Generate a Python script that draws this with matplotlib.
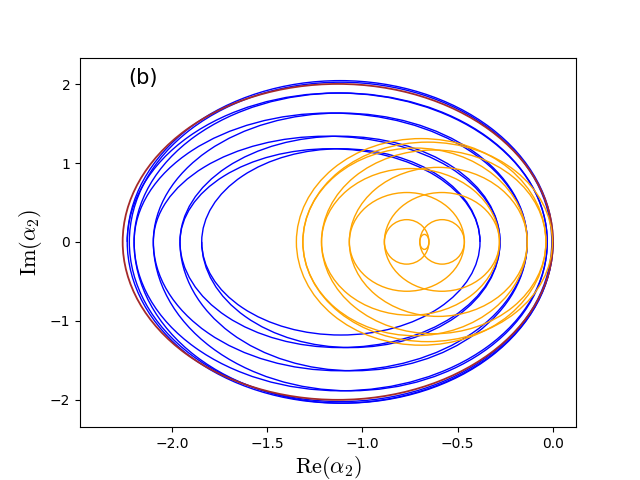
import matplotlib
matplotlib.use("Agg")
import matplotlib.pyplot as plt
from matplotlib.patches import Ellipse, Arc

plt.rcParams['mathtext.fontset'] = 'cm'

# blue orbit levels (left edge, right edge, half height)
blue_left = [-1.844, -1.958, -2.098, -2.199, -2.235]
blue_right = [-0.383, -0.278, -0.135, -0.030, 0.0]
blue_half = [1.181, 1.340, 1.634, 1.888, 2.045]

# extra full blue loop near the outside
blue_extra = [(-2.224, -0.006, 2.025)]

# reference orbit (red)
red_left, red_right, red_half = -2.259, 0.0, 2.003

# orange orbit: ellipses given as (left, right, half height)
orange_left = [-0.699, -0.885, -1.069, -1.215, -1.313, -1.347]
orange_right = [-0.651, -0.465, -0.281, -0.135, -0.037, -0.003]
orange_loops = [(0, 0, 0.095), (1, 0, 0.282), (0, 1, 0.282),
                (2, 1, 0.626), (1, 2, 0.626), (3, 2, 0.930),
                (2, 3, 0.945), (4, 3, 1.190), (3, 4, 1.165),
                (5, 4, 1.310), (4, 5, 1.265)]

fig, ax = plt.subplots(figsize=(6.4, 4.8), dpi=100)


def add_ellipse(l, r, h, color, lw=1.0):
    ax.add_patch(Ellipse(((l + r) / 2, 0), r - l, 2 * h, fill=False,
                         edgecolor=color, lw=lw))


def add_half(l, r, h, upper, color, lw=1.0):
    t1, t2 = (0, 180) if upper else (180, 360)
    ax.add_patch(Arc(((l + r) / 2, 0), r - l, 2 * h, theta1=t1, theta2=t2,
                     edgecolor=color, lw=lw))


# blue: full loops plus the half loops that jump between levels
for i in range(len(blue_left)):
    add_ellipse(blue_left[i], blue_right[i], blue_half[i], 'blue')
for i in range(len(blue_left) - 1):
    add_half(blue_left[i + 1], blue_right[i], blue_half[i], True, 'blue')
    add_half(blue_left[i], blue_right[i + 1], blue_half[i + 1], False, 'blue')
for l, r, h in blue_extra:
    add_ellipse(l, r, h, 'blue')

add_ellipse(red_left, red_right, red_half, 'brown', lw=1.3)

for i, j, h in orange_loops:
    add_ellipse(orange_left[i], orange_right[j], h, 'orange')

ax.set_xlim(-2.483, 0.121)
ax.set_ylim(-2.35, 2.337)
ax.set_xticks([-2.0, -1.5, -1.0, -0.5, 0.0])
ax.set_yticks([-2, -1, 0, 1, 2])

ax.set_xlabel(r'$\mathrm{Re}(\alpha_2)$', fontsize=16, labelpad=2)
ax.set_ylabel(r'$\mathrm{Im}(\alpha_2)$', fontsize=16)
ax.text(-2.23, 2.08, '(b)', fontsize=15, va='center')

fig.savefig('out.png', dpi=100)
